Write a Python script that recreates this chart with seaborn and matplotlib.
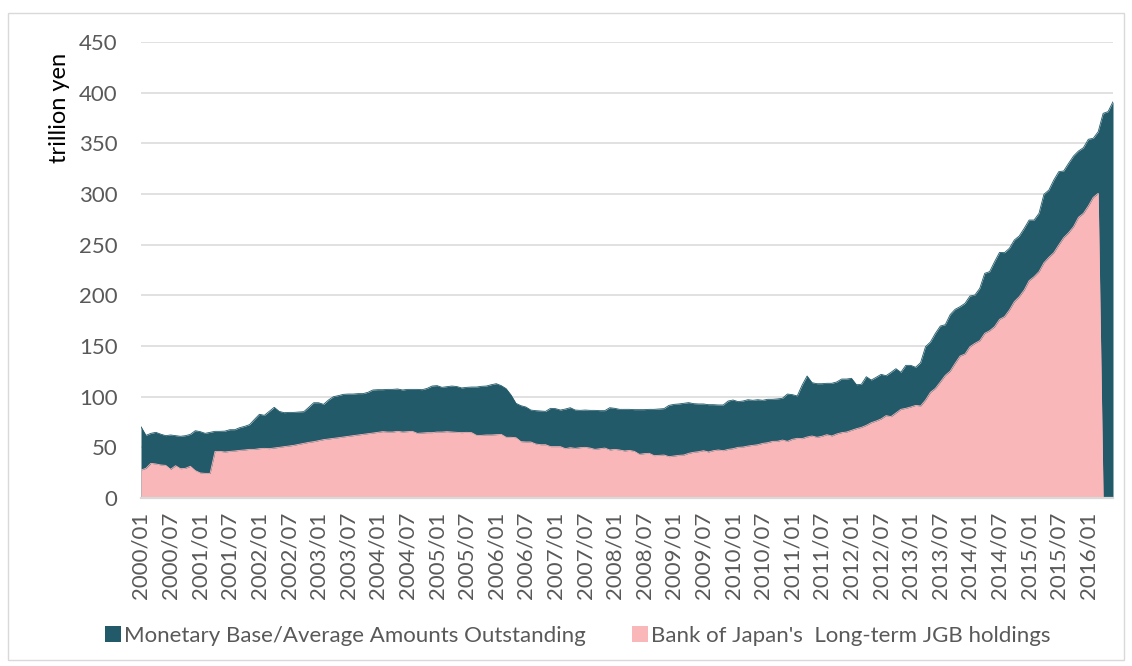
import matplotlib

matplotlib.use("Agg")
import matplotlib.pyplot as plt  # noqa: E402
import numpy as np  # noqa: E402
import pandas as pd  # noqa: E402
import seaborn as sns  # noqa: E402
from matplotlib.patches import Patch, Rectangle  # noqa: E402

# trillion yen, monthly from 2000/01
monetary_base = [
    70.4, 61.8, 63.8, 64.8, 63.0, 61.5, 62.2, 61.5, 60.9, 61.5, 62.8, 66.4,
    65.5, 63.8, 64.8, 65.8, 65.8, 66.0, 67.4, 67.4, 69.4, 70.7, 72.4, 77.6,
    82.6, 81.6, 85.5, 89.5, 85.5, 84.2, 84.5, 84.5, 84.9, 85.2, 89.5, 94.0,
    94.0, 92.4, 96.7, 100.0, 101.0, 102.3, 102.6, 102.6, 103.0, 103.0, 104.3, 106.6,
    106.9, 106.9, 107.2, 107.2, 107.6, 106.6, 107.2, 107.2, 107.2, 106.9, 108.2, 110.5,
    110.9, 109.2, 109.9, 110.5, 110.0, 108.6, 109.2, 109.5, 109.5, 110.2, 110.5, 111.8,
    112.8, 110.9, 107.9, 101.6, 93.4, 91.1, 89.8, 86.8, 86.2, 85.9, 85.5, 88.5,
    88.2, 86.8, 87.8, 89.1, 86.8, 86.5, 86.8, 86.5, 86.5, 86.2, 86.2, 89.1,
    88.5, 87.5, 87.5, 87.5, 87.2, 87.2, 87.2, 87.5, 87.5, 87.8, 88.2, 91.4,
    92.4, 92.8, 93.4, 94.1, 93.1, 92.8, 92.8, 92.1, 92.1, 91.8, 91.8, 95.7,
    96.7, 95.1, 95.7, 97.0, 96.4, 97.0, 96.4, 97.4, 97.4, 97.8, 98.4, 102.6,
    102.0, 100.7, 111.5, 120.4, 113.8, 112.8, 112.8, 113.2, 113.2, 114.5, 117.4, 117.4,
    118.1, 111.8, 112.2, 119.7, 116.4, 119.1, 122.0, 120.7, 124.0, 127.6, 124.0, 130.9,
    130.9, 129.0, 133.6, 149.3, 154.0, 162.5, 169.7, 171.0, 181.0, 186.2, 188.8, 192.1,
    199.3, 200.3, 206.9, 221.7, 223.4, 233.2, 242.4, 242.1, 246.4, 254.6, 258.6, 266.1,
    274.3, 274.3, 280.9, 299.7, 303.9, 313.8, 322.0, 322.7, 330.3, 337.5, 342.4, 345.7,
    354.0, 355.0, 361.5, 379.6, 381.3, 391.1,
]
jgb_holdings = [
    27.6, 29.3, 34.2, 33.6, 32.6, 32.2, 28.3, 31.9, 28.9, 29.3, 31.3, 27.0,
    24.7, 24.3, 24.3, 46.0, 46.0, 45.4, 46.0, 46.4, 47.0, 47.4, 48.0, 48.0,
    48.7, 49.0, 48.7, 49.3, 50.0, 50.7, 51.3, 52.0, 53.0, 53.9, 54.9, 55.6,
    56.6, 57.6, 58.2, 58.9, 59.5, 60.2, 60.9, 61.5, 62.2, 62.8, 63.5, 64.1,
    64.8, 65.5, 65.1, 65.1, 65.8, 65.1, 65.5, 65.8, 63.8, 64.1, 64.5, 64.5,
    65.1, 65.1, 65.5, 65.1, 64.8, 64.5, 64.8, 64.5, 61.8, 61.8, 62.2, 62.2,
    62.5, 62.8, 59.9, 59.9, 59.5, 55.6, 55.3, 55.3, 53.3, 52.6, 52.6, 50.7,
    50.7, 50.7, 48.7, 49.7, 49.0, 49.7, 50.0, 49.3, 48.0, 48.7, 49.3, 47.4,
    48.0, 47.4, 46.4, 47.0, 46.0, 43.1, 43.8, 44.1, 41.8, 42.1, 42.4, 40.8,
    41.4, 42.1, 42.4, 44.1, 45.1, 45.7, 46.7, 45.4, 46.7, 47.4, 46.7, 48.0,
    48.7, 50.0, 50.3, 51.3, 52.0, 52.6, 53.9, 54.6, 55.9, 56.0, 57.2, 55.9,
    57.9, 58.9, 58.6, 60.2, 61.2, 59.9, 60.9, 62.5, 61.2, 63.2, 64.5, 65.1,
    66.8, 68.4, 69.7, 71.7, 74.3, 76.0, 78.0, 81.3, 80.3, 83.9, 87.5, 88.5,
    89.8, 91.4, 90.8, 96.7, 104.3, 108.2, 114.5, 121.0, 125.2, 132.9, 140.1, 142.1,
    149.3, 152.6, 155.3, 162.5, 165.1, 169.1, 176.3, 178.9, 185.5, 193.8, 198.7, 205.3,
    214.5, 218.4, 223.4, 232.2, 237.5, 242.1, 249.7, 256.9, 261.8, 267.8, 277.0, 280.9,
    288.2, 296.7, 300.7, 0.0, 0.0, 0.0,
]
series_names = [
    "Monetary Base/Average Amounts Outstanding",
    "Bank of Japan's  Long-term JGB holdings",
]
y_ticks = [0, 50, 100, 150, 200, 250, 300, 350, 400, 450]

DARK = "#225a69"
PINK = "#f9b7b9"
GRID = "#d9d9d9"
TEXT = "#595959"

months = pd.date_range("2000-01-01", periods=len(monetary_base), freq="MS")
df = pd.DataFrame(
    {
        "month": months.strftime("%Y/%m"),
        "base": monetary_base,
        "jgb": jgb_holdings,
    }
)
df["pos"] = np.arange(len(df))

sns.set_theme(style="white")
plt.rcParams["font.family"] = ["Lato", "DejaVu Sans"]

W, H = 1132, 666
fig = plt.figure(figsize=(W / 100, H / 100), dpi=100)
ax = fig.add_axes([141 / W, 1 - 498 / H, (1113 - 141) / W, (498 - 42) / H])

ax.fill_between(df["pos"], df["base"], color=DARK, lw=0, zorder=2)
sns.lineplot(data=df, x="pos", y="base", color=DARK, lw=0.6, ax=ax, zorder=2)
ax.fill_between(df["pos"], df["jgb"], color=PINK, lw=0, zorder=3)
sns.lineplot(data=df, x="pos", y="jgb", color=PINK, lw=0.6, ax=ax, zorder=3)

ax.set_xlim(0, len(df) - 1)
ax.set_ylim(0, 450)
ax.set_yticks(y_ticks)
ax.set_xticks(df["pos"][::6])
ax.set_xticklabels(df["month"][::6], rotation=90)
ax.set_xlabel("")
ax.set_ylabel("")

ax.set_axisbelow(True)
ax.grid(axis="y", color=GRID, lw=1.1)
ax.grid(axis="x", visible=False)
for side in ["left", "top", "right"]:
    ax.spines[side].set_visible(False)
ax.spines["bottom"].set_color(GRID)
ax.spines["bottom"].set_linewidth(1.6)
ax.spines["bottom"].set_zorder(4)
ax.tick_params(axis="y", length=0, pad=17, labelsize=16, labelcolor=TEXT)
ax.tick_params(axis="x", length=0, pad=10, labelsize=16, labelcolor=TEXT)

fig.text(60 / W, 1 - 108 / H, "trillion yen", rotation=90, ha="center",
         va="center", fontsize=17, color="black")

handles = [Patch(facecolor=DARK, edgecolor="none"), Patch(facecolor=PINK, edgecolor="none")]
fig.legend(handles, series_names, loc="center", bbox_to_anchor=(578 / W, 1 - 636 / H),
           ncol=2, frameon=False, fontsize=16, labelcolor=TEXT, handlelength=0.7,
           handleheight=0.7, handletextpad=0.15, columnspacing=2.1)

fig.add_artist(Rectangle((8 / W, 1 - 660 / H), (1124 - 8) / W, (660 - 13) / H,
                         transform=fig.transFigure, fill=False, edgecolor=GRID, lw=1))

fig.savefig("out.png", dpi=100)
plt.close(fig)
